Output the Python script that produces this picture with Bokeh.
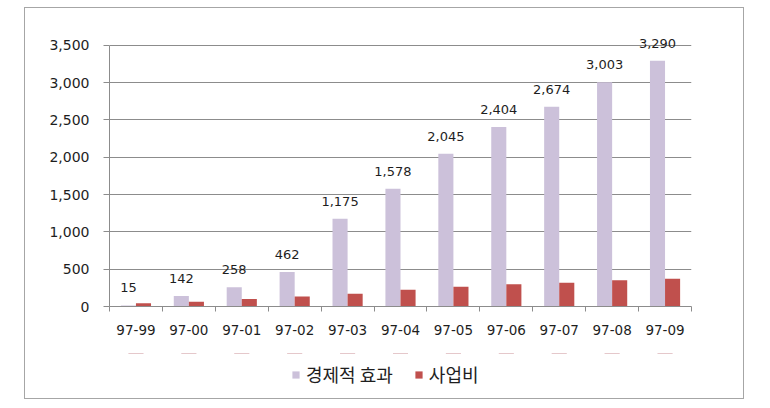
from bokeh.plotting import figure
from bokeh.layouts import column
from bokeh.models import (Range1d, FixedTicker, NumeralTickFormatter, ColumnDataSource,
                          Legend, LegendItem, LabelSet)
from bokeh.transform import dodge
from bokeh.core.properties import value
from bokeh.embed import file_html
from bokeh.resources import INLINE

categories = ["97-99", "97-00", "97-01", "97-02", "97-03", "97-04", "97-05", "97-06", "97-07", "97-08", "97-09"]
effect = [15, 142, 258, 462, 1175, 1578, 2045, 2404, 2674, 3003, 3290]
cost = [45, 63, 100, 134, 170, 224, 264, 299, 318, 353, 371]
series_names = ["경제적 효과", "사업비"]
y_ticks = [0, 500, 1000, 1500, 2000, 2500, 3000, 3500]

PURPLE = "#CCC1DA"
RED = "#C0504D"
GRID = "#8C8C8C"
TXT = "#1E1E1E"
NUMFONT = "DejaVu Sans"
KRFONT = "Noto Sans CJK KR"

n = len(categories)
centers = [i + 0.5 for i in range(n)]
edges = list(range(n + 1))
src = ColumnDataSource(dict(x=centers, effect=effect, cost=cost,
                            lab=[f"{v:,}" for v in effect]))

# frame extends a little above 3,500 so the top data label has room
p = figure(width=718, height=345, x_range=Range1d(0, n), y_range=Range1d(0, 3750),
           output_backend="svg", toolbar_location=None,
           min_border_left=84, min_border_right=52, min_border_top=18, min_border_bottom=47)
p.outline_line_color = None
p.background_fill_color = "white"
p.border_fill_color = "white"

bw = 0.285
p.vbar(x=dodge("x", -bw / 2), top="effect", width=bw, source=src,
       fill_color=PURPLE, line_color=None)
p.vbar(x=dodge("x", bw / 2), top="cost", width=bw, source=src,
       fill_color=RED, line_color=None)

labels = LabelSet(x=dodge("x", -bw / 2), y="effect", text="lab", source=src,
                  text_align="center", text_baseline="alphabetic", y_offset=13,
                  text_font=value(NUMFONT), text_font_size="13px", text_color=TXT)
p.add_layout(labels)

# y axis
ya = p.yaxis[0]
ya.ticker = FixedTicker(ticks=y_ticks)
ya.bounds = (0, 3500)
ya.formatter = NumeralTickFormatter(format="0,0")
ya.axis_line_color = GRID
ya.major_tick_line_color = GRID
ya.major_tick_in = 0
ya.major_tick_out = 6
ya.minor_tick_line_color = None
ya.major_label_standoff = 14
ya.major_label_text_font = NUMFONT
ya.major_label_text_font_size = "14px"
ya.major_label_text_color = TXT

p.ygrid.ticker = FixedTicker(ticks=y_ticks)
p.ygrid.grid_line_color = GRID
p.xgrid.grid_line_color = None

# x axis: labels at category centres, tick marks at category boundaries
xa = p.xaxis[0]
xa.ticker = FixedTicker(ticks=centers, minor_ticks=edges)
xa.major_label_overrides = {c: lab for c, lab in zip(centers, categories)}
xa.axis_line_color = GRID
xa.major_tick_line_color = None
xa.major_tick_in = 0
xa.major_tick_out = 0
xa.minor_tick_line_color = GRID
xa.minor_tick_in = 0
xa.minor_tick_out = 5
xa.major_label_standoff = 13
xa.major_label_text_font = NUMFONT
xa.major_label_text_font_size = "13.5px"
xa.major_label_text_color = TXT

# legend strip below the chart (its renderers have zero height and lie outside the view)
lf = figure(width=718, height=45, x_range=Range1d(0, n), y_range=Range1d(-2, -1),
            output_backend="svg", toolbar_location=None,
            x_axis_location=None, y_axis_location=None,
            min_border_left=0, min_border_right=0, min_border_top=0, min_border_bottom=0)
lf.outline_line_color = None
lf.xgrid.visible = False
lf.ygrid.visible = False
lr1 = lf.vbar(x="x", bottom="effect", top="effect", width=bw, source=src,
              fill_color=PURPLE, line_color=None)
lr2 = lf.vbar(x="x", bottom="cost", top="cost", width=bw, source=src,
              fill_color=RED, line_color=None)
legend = Legend(items=[LegendItem(label=series_names[0], renderers=[lr1]),
                       LegendItem(label=series_names[1], renderers=[lr2])],
                orientation="horizontal", location=(182, 11),
                label_text_font=KRFONT, label_text_font_size="18px", label_text_color=TXT,
                glyph_width=9, glyph_height=9, label_standoff=6, spacing=21,
                padding=0, margin=0, border_line_color=None, background_fill_alpha=0)
lf.add_layout(legend, "center")

layout = column(p, lf, spacing=0)
layout.margin = (8, 0, 0, 25)
layout.styles = {"outline": "1px solid #A6A6A6"}

open("out.html", "w").write(file_html(layout, INLINE))
